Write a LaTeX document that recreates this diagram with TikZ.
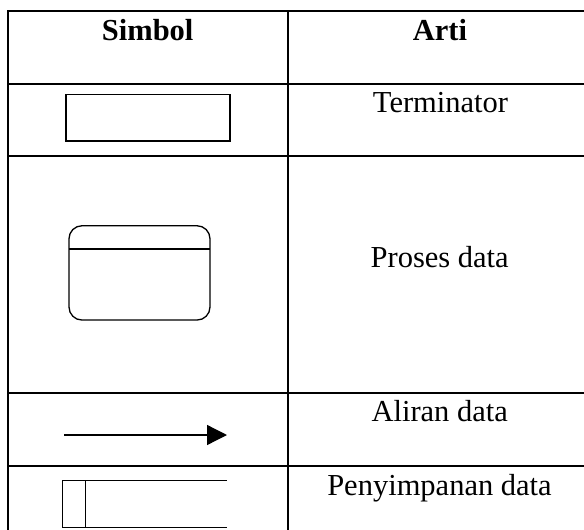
\documentclass[tikz,border=0pt]{standalone}
\usepackage{fontspec}
\setmainfont{Liberation Serif}
\usetikzlibrary{arrows.meta}
\begin{document}
\begin{tikzpicture}[x=1pt,y=-1pt,
  grid/.style={line width=2pt,black},
  sym/.style={line width=1.3pt,black},
  txt/.style={anchor=base,inner sep=0pt,font=\fontsize{30.5}{36}\selectfont},
  hdr/.style={txt,font=\fontsize{30.5}{36}\selectfont\bfseries}]
\useasboundingbox (0,0) rectangle (584,530);
% table grid
\draw[grid] (586,11) -- (7.7,11) -- (7.7,531);
\draw[grid] (287.7,11) -- (287.7,531);
\foreach \yy in {83.5,156,393,466}{\draw[grid] (7.7,\yy) -- (586,\yy);}
% header
\node[hdr] (hs) at (147.7,40) {Simbol};
\node[hdr] (ha) at (440,40) {Arti};
% terminator
\node[sym,draw,rectangle,minimum width=164pt,minimum height=46.7pt,inner sep=0pt] (term) at (148,117.7) {};
\node[txt] (tterm) at (440.5,112.7) {Terminator};
% process
\node[sym,draw,rectangle,rounded corners=13pt,minimum width=141pt,minimum height=94.3pt,inner sep=0pt] (proc) at (139.5,272.9) {};
\coordinate (pl) at (69,249);
\coordinate (pr) at (210,249);
\draw[sym] (pl) -- (pr);
\node[txt] (tproc) at (439.7,267.3) {Proses data};
% data flow
\coordinate (fa) at (64,435);
\coordinate (fb) at (227,435);
\draw[sym,-{Triangle[length=20pt,width=20pt]}] (fa) -- (fb);
\node[txt] (tflow) at (439.7,421.7) {Aliran data};
% data store
\coordinate (s1) at (226.7,480.7);
\coordinate (s2) at (62.3,480.7);
\coordinate (s3) at (62.3,527.7);
\coordinate (s4) at (226.7,527.7);
\coordinate (d1) at (85.7,480.7);
\coordinate (d2) at (85.7,527.7);
\draw[sym] (s1) -- (s2) -- (s3) -- (s4);
\draw[sym] (d1) -- (d2);
\node[txt] (tstore) at (439.5,495) {Penyimpanan data};
\end{tikzpicture}
\end{document}
